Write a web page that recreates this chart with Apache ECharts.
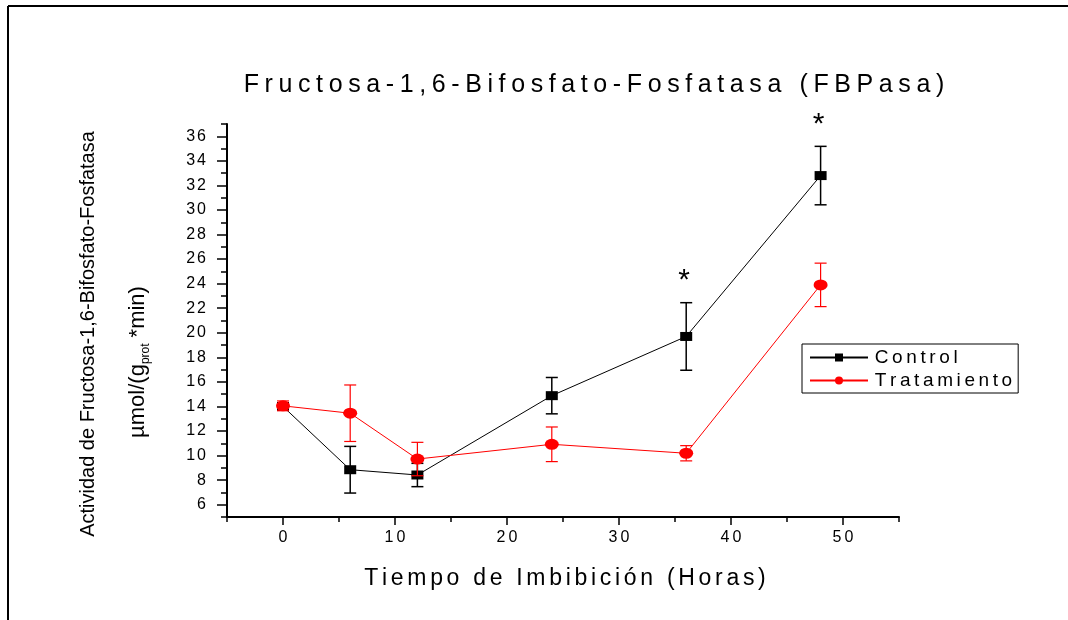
<!DOCTYPE html>
<html>
<head>
<meta charset="utf-8">
<script src="https://cdn.jsdelivr.net/npm/echarts@6/dist/echarts.min.js"></script>
<style>
  html, body { margin: 0; padding: 0; background: #fff; }
  #chart { width: 1068px; height: 620px; }
</style>
</head>
<body>
<div id="chart"></div>
<script>
// datos (horas de imbibicion)
const horas = [0, 6, 12, 24, 36, 48];
const controlMedia = [14.0, 8.85, 8.42, 14.88, 19.7, 32.8];
const controlError = [0.3, 1.9, 0.95, 1.48, 2.75, 2.38];
const controlSignif = [0, 0, 0, 0, 1, 1];
const tratMedia = [14.05, 13.45, 9.72, 10.92, 10.19, 23.9];
const tratError = [0.4, 2.3, 1.36, 1.41, 0.62, 1.77];
const tratSignif = [0, 0, 0, 0, 0, 0];
const nombres = ['Control', 'Tratamiento'];

const titulo = 'Fructosa-1,6-Bifosfato-Fosfatasa (FBPasa)';
const tituloX = 'Tiempo de Imbibición (Horas)';
const tituloY1 = 'Actividad de Fructosa-1,6-Bifosfato-Fosfatasa';

const FONT = '"Liberation Sans", Arial, sans-serif';

// texto con espaciado entre letras (rich text, un token por caracter)
function espaciado(str, estilo) {
    return str.split('').map((c) => `{${estilo}|${c}}`).join('');
}
function estiloEsp(size, sp) {
    return { fontSize: size, fontFamily: FONT, color: '#000', padding: [0, sp / 2, 0, sp / 2] };
}

function puntos(media) {
    return horas.map((h, i) => [h, media[i]]);
}
function barras(media, err, signif) {
    return horas.map((h, i) => [h, media[i] - err[i], media[i] + err[i], signif[i]]);
}

function barraError(color, ancho) {
    return function (params, api) {
        const x = api.value(0);
        const top = api.coord([x, api.value(2)]);
        const bot = api.coord([x, api.value(1)]);
        const half = 6;
        const style = { stroke: color, lineWidth: ancho };
        const children = [
            { type: 'line', shape: { x1: top[0], y1: top[1], x2: bot[0], y2: bot[1] }, style },
            { type: 'line', shape: { x1: top[0] - half, y1: top[1], x2: top[0] + half, y2: top[1] }, style },
            { type: 'line', shape: { x1: bot[0] - half, y1: bot[1], x2: bot[0] + half, y2: bot[1] }, style },
        ];
        if (api.value(3)) {
            children.push({
                type: 'text',
                x: top[0] - 2,
                y: top[1] - 22,
                style: { text: '*', fontSize: 30, fontFamily: FONT, fill: '#000', align: 'center', verticalAlign: 'middle' },
            });
        }
        return { type: 'group', children };
    };
}

const chart = echarts.init(document.getElementById('chart'));

const ejeComun = {
    axisLine: { show: true, onZero: false, lineStyle: { color: '#000', width: 2 } },
    splitLine: { show: false },
};

const option = {
    animation: false,
    backgroundColor: '#fff',
    grid: [
        { left: 227, right: 169, top: 124, bottom: 103 },
        { left: 283, right: 225, top: 136.28, bottom: 115.28 },
    ],
    xAxis: [
        {
            ...ejeComun,
            type: 'value', gridIndex: 0, min: -5, max: 55, interval: 5,
            axisTick: { length: 5, lineStyle: { color: '#000', width: 1.5 } },
            axisLabel: { show: false },
        },
        {
            type: 'value', gridIndex: 1, min: 0, max: 50, interval: 10, offset: 12.28,
            axisLine: { show: false, onZero: false },
            splitLine: { show: false },
            axisTick: { show: true, length: 8, lineStyle: { color: '#000', width: 1.5 } },
            axisLabel: {
                margin: 13,
                fontSize: 16,
                fontFamily: FONT,
                formatter: (v) => espaciado(String(v), 't'),
                rich: { t: estiloEsp(16, 3) },
            },
        },
    ],
    yAxis: [
        {
            ...ejeComun,
            type: 'value', gridIndex: 0, min: 5, max: 37, interval: 1,
            axisTick: { length: 6, lineStyle: { color: '#000', width: 1.5 } },
            axisLabel: { show: false },
        },
        {
            type: 'value', gridIndex: 1, min: 6, max: 36, interval: 2, offset: 56,
            axisLine: { show: false, onZero: false },
            splitLine: { show: false },
            axisTick: { show: true, length: 10, lineStyle: { color: '#000', width: 1.5 } },
            axisLabel: {
                margin: 20,
                fontSize: 16,
                fontFamily: FONT,
                formatter: (v) => espaciado(String(v), 't'),
                rich: { t: estiloEsp(16, 2) },
            },
        },
    ],
    legend: {
        data: nombres,
        orient: 'vertical',
        left: 802,
        top: 344,
        itemWidth: 58,
        itemHeight: 10,
        itemGap: 4,
        padding: [4, 6, 3, 7],
        borderColor: '#000',
        borderWidth: 1,
        borderRadius: 0,
        backgroundColor: '#fff',
        formatter: (n) => espaciado(n, 'l'),
        textStyle: { fontSize: 19, rich: { l: estiloEsp(19, 3.6) } },
    },
    series: [
        {
            name: 'errControl',
            type: 'custom',
            xAxisIndex: 0, yAxisIndex: 0,
            z: 1,
            renderItem: barraError('#000', 1.5),
            encode: { x: 0, y: [1, 2] },
            data: barras(controlMedia, controlError, controlSignif),
            silent: true,
        },
        {
            name: nombres[0],
            type: 'line',
            xAxisIndex: 0, yAxisIndex: 0,
            z: 2,
            symbol: 'rect',
            symbolSize: [12, 9],
            itemStyle: { color: '#000' },
            lineStyle: { color: '#000', width: 1 },
            data: puntos(controlMedia),
        },
        {
            name: 'errTrat',
            type: 'custom',
            xAxisIndex: 0, yAxisIndex: 0,
            z: 3,
            renderItem: barraError('#ff0000', 1.2),
            encode: { x: 0, y: [1, 2] },
            data: barras(tratMedia, tratError, tratSignif),
            silent: true,
        },
        {
            name: nombres[1],
            type: 'line',
            xAxisIndex: 0, yAxisIndex: 0,
            z: 4,
            symbol: 'circle',
            symbolSize: [14, 11],
            itemStyle: { color: '#ff0000' },
            lineStyle: { color: '#ff0000', width: 1 },
            data: puntos(tratMedia),
        },
    ],
    graphic: [
        // marco exterior
        { type: 'line', shape: { x1: 8, y1: 6, x2: 1068, y2: 6 }, style: { stroke: '#000', lineWidth: 2 } },
        { type: 'line', shape: { x1: 8, y1: 6, x2: 8, y2: 620 }, style: { stroke: '#000', lineWidth: 2 } },
        {
            type: 'text', x: 594, y: 85,
            style: {
                text: espaciado(titulo, 'h'), align: 'center', verticalAlign: 'middle',
                rich: { h: estiloEsp(25, 5.6) },
            },
        },
        {
            type: 'text', x: 565, y: 579,
            style: {
                text: espaciado(tituloX, 'x'), align: 'center', verticalAlign: 'middle',
                rich: { x: estiloEsp(23, 3.7) },
            },
        },
        {
            type: 'text', x: 88, y: 334, rotation: Math.PI / 2,
            style: {
                text: tituloY1, align: 'center', verticalAlign: 'middle',
                fontSize: 20, fontFamily: FONT, fill: '#000',
            },
        },
        {
            type: 'text', x: 138, y: 362, rotation: Math.PI / 2,
            style: {
                text: '{n|µmol/(g}{s|prot}{n|*min)}', align: 'center', verticalAlign: 'middle',
                rich: {
                    n: { fontSize: 22, fontFamily: FONT, color: '#000', lineHeight: 27 },
                    s: { fontSize: 12, fontFamily: FONT, color: '#000', verticalAlign: 'bottom', padding: [0, 6, 0, 0] },
                },
            },
        },
    ],
};

chart.setOption(option);
</script>
</body>
</html>
